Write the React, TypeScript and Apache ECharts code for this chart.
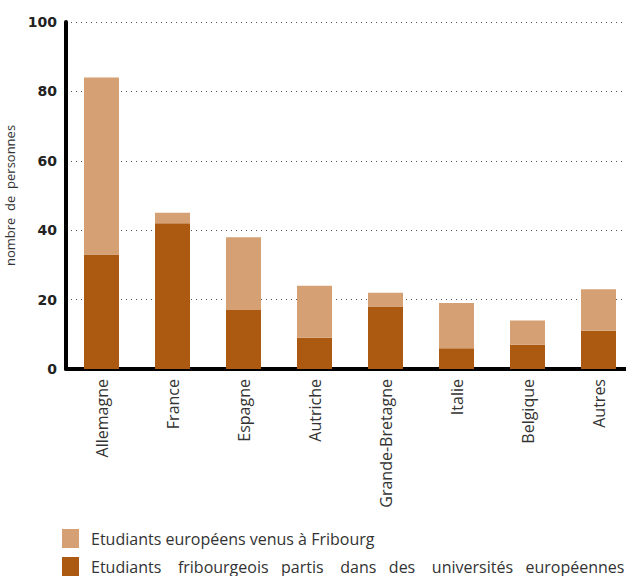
import React, { useEffect, useRef } from "react";
import * as echarts from "echarts";

const categories = ["Allemagne", "France", "Espagne", "Autriche", "Grande-Bretagne", "Italie", "Belgique", "Autres"];
const partis = [33, 42, 17, 9, 18, 6, 7, 11];
const venus = [51, 3, 21, 15, 4, 13, 7, 12];
const yTicks = [0, 20, 40, 60, 80, 100];
const nameVenus = "Etudiants européens venus à Fribourg";
const namePartis = "Etudiants    fribourgeois   partis    dans   des    universités   européennes";

const legendBase = {
  orient: "horizontal",
  left: 62,
  padding: 0,
  itemWidth: 17,
  itemHeight: 19,
  icon: "rect",
  textStyle: { fontSize: 16, color: "#333", fontFamily: "Open Sans", padding: [0, 0, 0, 7] },
};

export default function App() {
  const ref = useRef<HTMLDivElement>(null);
  useEffect(() => {
    const chart = echarts.init(ref.current!, null, { renderer: "svg" });
    chart.setOption({
      animation: false,
      grid: { left: 66, right: -8, top: 22, bottom: 207, containLabel: false, outerBoundsMode: "none" },
      legend: [
        { ...legendBase, top: 529, data: [nameVenus] },
        { ...legendBase, top: 557, data: [namePartis] },
      ],
      xAxis: {
        type: "category",
        data: categories,
        axisLine: { lineStyle: { color: "#000", width: 4 } },
        axisTick: { show: false },
        axisLabel: { rotate: 90, fontSize: 16, color: "#333", fontFamily: "Open Sans", margin: 10 },
      },
      yAxis: {
        type: "value",
        min: 0,
        max: 100,
        interval: 20,
        name: "nombre  de  personnes",
        nameLocation: "middle",
        nameGap: 50,
        nameRotate: 90,
        nameTextStyle: { fontSize: 13, color: "#333", fontFamily: "Open Sans" },
        axisLine: { show: true, lineStyle: { color: "#000", width: 4 } },
        axisTick: { show: false },
        axisLabel: {
          fontSize: 14,
          fontWeight: "bold",
          color: "#222",
          fontFamily: "DejaVu Sans",
          margin: 9,
          formatter: (v: number) => (yTicks.includes(v) ? String(v) : ""),
        },
        splitLine: { lineStyle: { color: "#555", type: [1, 4], width: 1 } },
      },
      series: [
        {
          name: namePartis,
          type: "bar",
          stack: "t",
          data: partis,
          barWidth: 35,
          itemStyle: { color: "#ac5a12" },
        },
        {
          name: nameVenus,
          type: "bar",
          stack: "t",
          data: venus,
          barWidth: 35,
          itemStyle: { color: "#d5a073" },
        },
      ],
    });
    return () => chart.dispose();
  }, []);
  return (
    <div
      ref={ref}
      style={{ position: "absolute", left: 0, top: 0, width: 626, height: 576, overflow: "hidden" }}
    />
  );
}
